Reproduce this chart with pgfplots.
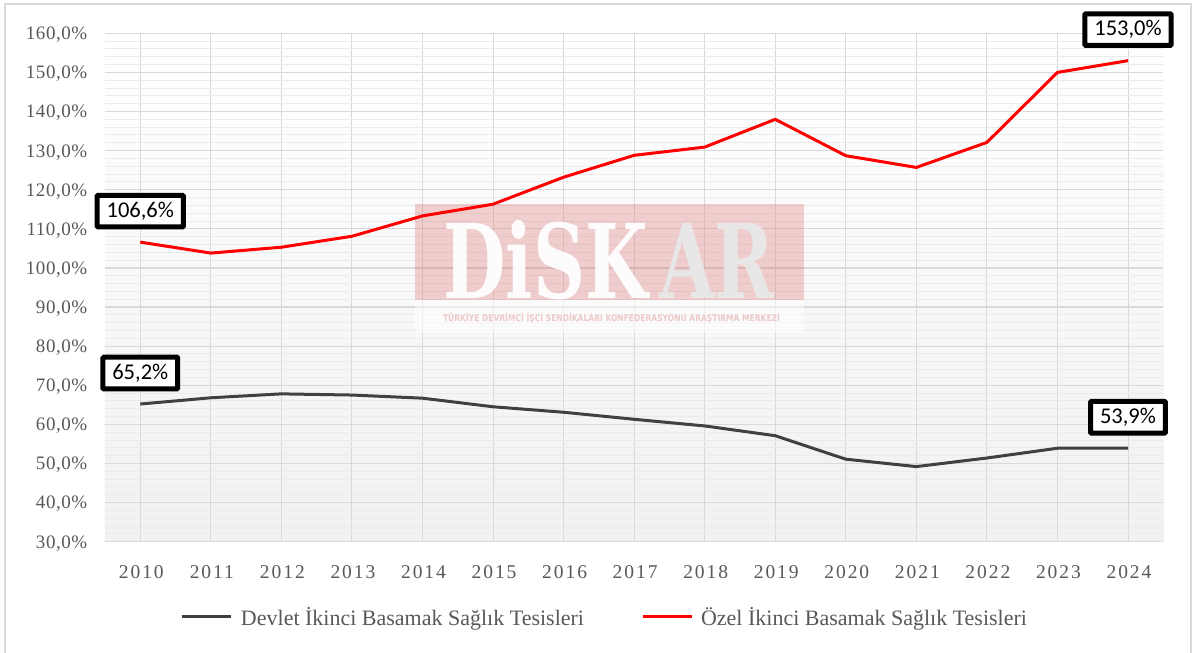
\documentclass[border=0pt]{standalone}
\usepackage{fontspec}
\setmainfont{Liberation Serif}
\newfontfamily\xtickfont[LetterSpace=10]{Liberation Serif}
\newfontfamily\ytickfont[LetterSpace=3]{Liberation Serif}
\newfontfamily\labelfont{Carlito}
\newfontfamily\wmfont{DejaVu Serif}
\newfontfamily\wmsans{DejaVu Sans}
\usepackage{graphicx}
\usepackage{pgfplots}
\pgfplotsset{compat=1.18}
\definecolor{tickgray}{HTML}{595959}
\definecolor{gridmaj}{HTML}{D9D9D9}
\definecolor{gridmin}{HTML}{EBEBEB}
\definecolor{darkline}{HTML}{404040}
\definecolor{frame}{HTML}{D9D9D9}
\definecolor{wmred}{RGB}{215,90,90}
\definecolor{wmtext}{RGB}{236,200,200}
\begin{document}
\begin{tikzpicture}[x=1pt,y=1pt]
\useasboundingbox (0,0) rectangle (1192,653);
\fill[white] (0,0) rectangle (1192,653);
\draw[frame, line width=1.5pt] (5,-10) rectangle (1191,649);
\begin{axis}[
  at={(105pt,111.3pt)}, anchor=south west,
  scale only axis, width=1058.3pt, height=508.4pt,
  xmin=2009.5, xmax=2024.5, ymin=30, ymax=160,
  clip=false,
  axis line style={draw=none},
  tick style={draw=none},
  major tick length=0pt, minor tick length=0pt,
  xtick={2010,2011,...,2024},
  xticklabels={2010,2011,2012,2013,2014,2015,2016,2017,2018,2019,2020,2021,2022,2023,2024},
  ytick={30,40,...,160},
  minor y tick num=4,
  xmajorgrids, ymajorgrids, yminorgrids,
  major grid style={gridmaj, line width=1.3pt},
  minor grid style={gridmin, line width=1pt},
  major x grid style={gridmaj, line width=0.9pt},
  axis background/.style={shade, top color=white, bottom color={rgb,255:red,241;green,241;blue,241}},
  /pgf/number format/assume math mode=true,
  yticklabel={\pgfmathprintnumber[fixed,fixed zerofill,precision=1,use comma]{\tick}\%},
  yticklabel style={font=\ytickfont\fontsize{19}{21}\selectfont, text=tickgray, anchor=base east, inner sep=0pt, xshift=-17.5pt, yshift=-6.4pt},
  xticklabel style={font=\xtickfont\fontsize{19.5}{22}\selectfont, text=tickgray, anchor=base, inner sep=0pt, yshift=-36.6pt, xshift=1pt},
  legend columns=2,
  legend style={at={(0.4715,-0.148)}, anchor=center, draw=none, fill=none,
    font=\fontsize{22}{24}\selectfont, text=tickgray,
    /tikz/every even column/.append style={column sep=57pt},
    nodes={inner sep=0pt}},
  legend image code/.code={\draw[#1, line width=3pt] (0pt,0pt) -- (49pt,0pt); \path (57pt,0pt);},
]
% watermark
\fill[wmred, opacity=0.27] (axis cs:2013.895,91.8) rectangle (axis cs:2019.41,116.35);
\fill[white, opacity=0.5] (axis cs:2013.895,83.3) rectangle (axis cs:2019.41,91.8);
\node[anchor=base west, inner sep=0pt, text=white, opacity=0.92] at (axis cs:2014.29,92.3)
  {\wmfont\bfseries\fontsize{103}{110}\selectfont\scalebox{0.7}[1]{DiSK}};
\node[anchor=base west, inner sep=0pt, text={rgb,255:red,232;green,232;blue,232}, opacity=0.95] at (axis cs:2017.35,92.3)
  {\wmfont\bfseries\fontsize{103}{110}\selectfont\scalebox{0.7}[1]{AR}};
\node[inner sep=0pt, text=wmtext] at (axis cs:2016.68,87.2)
  {\resizebox{337pt}{8.5pt}{\wmsans\bfseries TÜRKİYE DEVRİMCİ İŞÇİ SENDİKALARI KONFEDERASYONU ARAŞTIRMA MERKEZİ}};

\addplot[color=darkline, line width=3pt, line join=round] coordinates {
 (2010,65.2) (2011,66.8) (2012,67.8) (2013,67.5) (2014,66.7) (2015,64.5)
 (2016,63.1) (2017,61.3) (2018,59.6) (2019,57.1) (2020,51.1) (2021,49.2)
 (2022,51.4) (2023,53.9) (2024,53.9)};
\addlegendentry{Devlet İkinci Basamak Sağlık Tesisleri}
\addplot[color=red, line width=3pt, line join=round] coordinates {
 (2010,106.6) (2011,103.8) (2012,105.3) (2013,108.1) (2014,113.3) (2015,116.3)
 (2016,123.2) (2017,128.8) (2018,130.9) (2019,138.0) (2020,128.7) (2021,125.7)
 (2022,132.1) (2023,150.0) (2024,153.0)};
\addlegendentry{Özel İkinci Basamak Sağlık Tesisleri}

\addplot[draw=none, forget plot, nodes near coords, point meta=explicit symbolic,
  nodes near coords style={anchor=center, yshift=31pt, draw=black, line width=5pt,
    fill=white, text=black, font=\labelfont\fontsize{22.5}{24}\selectfont,
    minimum height=31.6pt, inner xsep=9.5pt, inner ysep=0pt, rounded corners=1pt}]
  coordinates {(2010,106.6) [{106,6\%}] (2024,153.0) [{153,0\%}] (2010,65.2) [{65,2\%}] (2024,53.9) [{53,9\%}]};
\end{axis}
\end{tikzpicture}
\end{document}
